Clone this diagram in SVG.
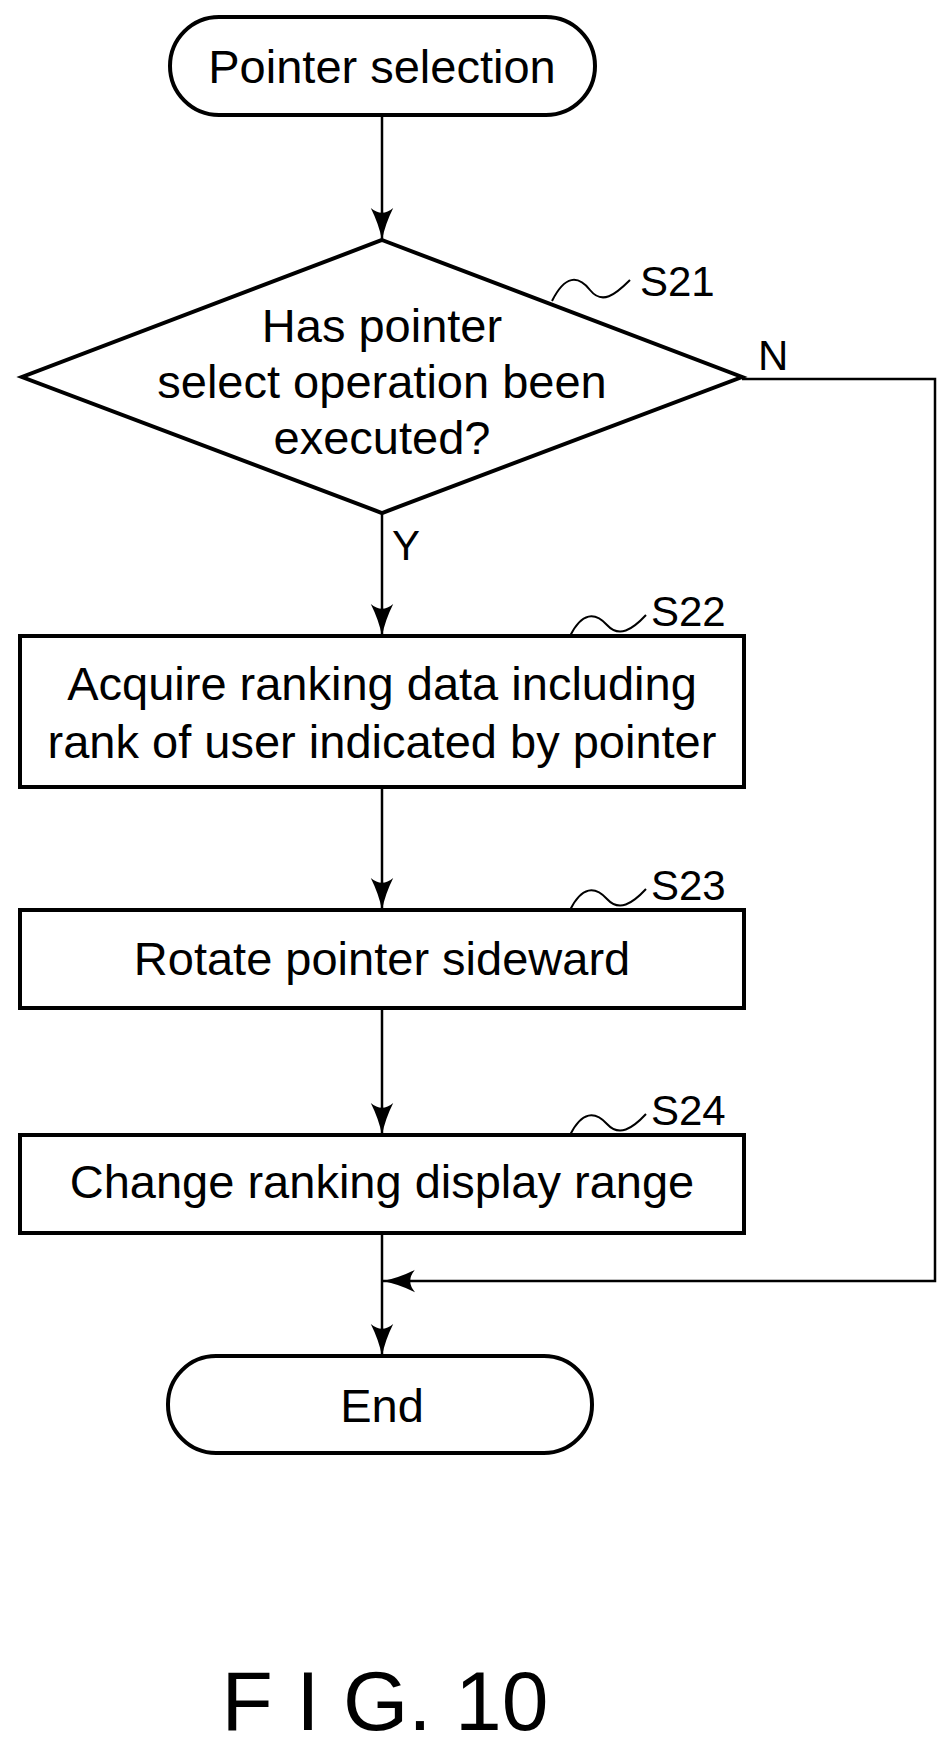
<svg xmlns="http://www.w3.org/2000/svg" width="952" height="1754" viewBox="0 0 952 1754">
<style>
text{font-family:"Liberation Sans",Arial,sans-serif;fill:#000;text-anchor:middle}
.t{font-size:47px}.s{font-size:42px;text-anchor:start}
.shape{fill:#fff;stroke:#000;stroke-width:4}
.ln{fill:none;stroke:#000;stroke-width:2.5}
.sq{fill:none;stroke:#000;stroke-width:2}
</style>
<defs>
<marker id="ahl" viewBox="0 0 20 20" refX="20" refY="10" markerWidth="32" markerHeight="32" markerUnits="userSpaceOnUse" orient="auto"><path d="M0,3 Q10,8 20,10 Q10,12 0,17 Q6,10 0,3 Z" fill="#000"/></marker></defs>
<g id="connectors">
<line class="ln" x1="382" y1="115" x2="382" y2="240" marker-end="url(#ahl)"/>
<line class="ln" x1="382" y1="513" x2="382" y2="636" marker-end="url(#ahl)"/>
<line class="ln" x1="382" y1="787" x2="382" y2="910" marker-end="url(#ahl)"/>
<line class="ln" x1="382" y1="1008" x2="382" y2="1135" marker-end="url(#ahl)"/>
<line class="ln" x1="382" y1="1233" x2="382" y2="1356" marker-end="url(#ahl)"/>
<polyline class="ln" points="742,379 935,379 935,1281 383,1281" marker-end="url(#ahl)"/>
<text class="s" x="758" y="370">N</text>
<text class="s" x="392" y="560">Y</text>
</g>
<g id="start"><rect class="shape" x="170" y="17" width="425" height="98" rx="49"/><text class="t" x="382" y="83">Pointer selection</text></g>
<g id="S21"><polygon class="shape" points="382,240 742,377 382,513 22,377"/>
<text class="t" x="382" y="342">Has pointer</text><text class="t" x="382" y="398">select operation been</text><text class="t" x="382" y="454">executed?</text>
<path class="sq" d="M552,301 C565,275 578,275 590,290 C602,305 615,295 630,280"/><text class="s" x="640" y="296">S21</text></g>
<g id="S22"><rect class="shape" x="20" y="636" width="724" height="151"/>
<text class="t" x="382" y="700">Acquire ranking data including</text><text class="t" x="382" y="758">rank of user indicated by pointer</text>
<path class="sq" d="M570,636 C582,612 595,612 607,625 C619,638 632,630 646,615"/><text class="s" x="651" y="626">S22</text></g>
<g id="S23"><rect class="shape" x="20" y="910" width="724" height="98"/>
<text class="t" x="382" y="975">Rotate pointer sideward</text>
<path class="sq" d="M570,910 C582,886 595,886 607,899 C619,912 632,904 646,889"/><text class="s" x="651" y="900">S23</text></g>
<g id="S24"><rect class="shape" x="20" y="1135" width="724" height="98"/>
<text class="t" x="382" y="1198">Change ranking display range</text>
<path class="sq" d="M570,1135 C582,1111 595,1111 607,1124 C619,1137 632,1129 646,1114"/><text class="s" x="651" y="1125">S24</text></g>
<g id="end"><rect class="shape" x="168" y="1356" width="424" height="97" rx="48"/><text class="t" x="382" y="1422">End</text></g>
<text x="385" y="1730" style="font-size:84px">F I G. 10</text>
</svg>
